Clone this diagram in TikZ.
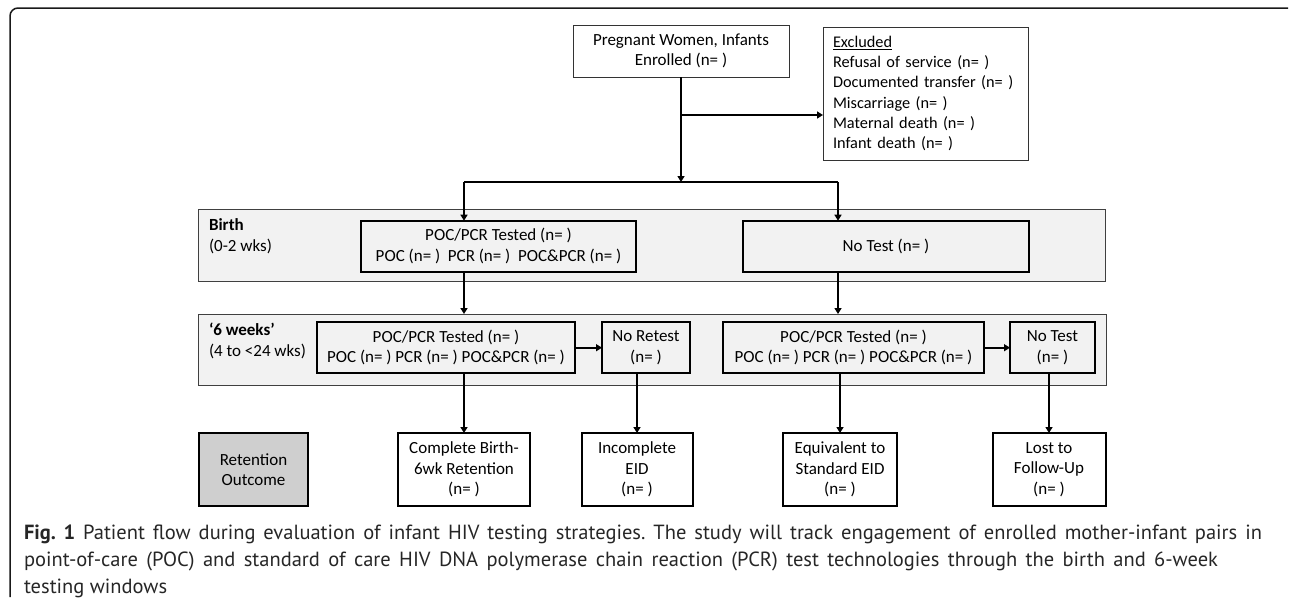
\documentclass[tikz,border=0pt]{standalone}
\usepackage{fontspec}
\setmainfont{Carlito}
\newfontfamily\capfont{PT Sans}
\usetikzlibrary{arrows.meta}
\begin{document}
\frenchspacing
\begin{tikzpicture}[x=1pt,y=-1pt,
 every node/.style={inner sep=0pt, outer sep=0pt},
 txt/.style={font=\fontsize{17}{20.5}\selectfont, align=center},
 thinbox/.style={draw=black!80, line width=1pt, fill=white, txt},
 band/.style={draw=black!75, line width=1pt, fill=black!5},
 boldbox/.style={draw=black, line width=2pt, fill=black!5, txt},
 outbox/.style={draw=black, line width=2pt, fill=white, txt, minimum height=73},
 arr/.style={line width=1.8pt, -{Triangle[width=7pt,length=6pt]}},
 ln/.style={line width=1.8pt},
 captxt/.style={anchor=base west, font=\capfont\fontsize{20.5}{27}\selectfont, text=black!85},
]
\useasboundingbox (0,0) rectangle (1290,603);
% frame
\draw[draw=black!90, line width=1.5pt, rounded corners=8] (10,597) -- (10,8) -- (1288,8);

% top
\node[thinbox, minimum width=216, minimum height=52] (top) at (681,51) {Pregnant Women, Infants\\Enrolled (n= )};
\node[thinbox, minimum width=205, minimum height=133, align=left, text width=185, font=\fontsize{16.3}{20.2}\selectfont] (exc) at (925.5,93.5)
 {\underline{Excluded}\\Refusal of service (n= )\\Documented transfer (n= )\\Miscarriage (n= )\\Maternal death (n= )\\Infant death (n= )};

% bands
\node[band, minimum width=907, minimum height=72] (bandB) at (651.75,245) {};
\node[band, minimum width=908, minimum height=71] (bandW) at (652,349.5) {};
\node[txt, align=left, anchor=west] (lblB) at (209,236) {\textbf{Birth}\\(0-2 wks)};
\node[txt, align=left, anchor=west] (lblW) at (209,341) {\textbf{‘6 weeks’}\\(4 to <24 wks)};

% birth row
\node[boldbox, minimum width=275, minimum height=51] (bpoc) at (498.5,246.2) {POC/PCR Tested (n= )\\POC (n= )\ \ PCR (n= )\ \ POC\&PCR (n= )};
\node[boldbox, minimum width=286, minimum height=51] (bno) at (886,246.2) {No Test (n= )};

% 6 week row
\node[boldbox, minimum width=258, minimum height=51] (wpoc) at (446,347.7) {POC/PCR Tested (n= )\\POC (n= ) PCR (n= ) POC\&PCR (n= )};
\node[boldbox, minimum width=88, minimum height=51] (wnr) at (646,347.7) {No Retest\\(n= )};
\node[boldbox, minimum width=261, minimum height=51] (wpocR) at (853.5,347.7) {POC/PCR Tested (n= )\\POC (n= ) PCR (n= ) POC\&PCR (n= )};
\node[boldbox, minimum width=85, minimum height=51] (wnt) at (1052.5,347.7) {No Test\\(n= )};

% outcomes
\node[outbox, fill=black!19, minimum width=109] (ret) at (253.5,469.5) {Retention\\Outcome};
\node[outbox, minimum width=132] (comp) at (464,469.5) {Complete Birth-\\6wk Retention\\(n= )};
\node[outbox, minimum width=111] (inc) at (637,469.5) {Incomplete\\EID\\(n= )};
\node[outbox, minimum width=114] (equ) at (840,469.5) {Equivalent to\\Standard EID\\(n= )};
\node[outbox, minimum width=113] (lost) at (1049,469.5) {Lost to\\Follow-Up\\(n= )};

% connectors
\coordinate (jc) at (681,182);
\coordinate (jx) at (681,115);
\coordinate (jl) at (464,182);
\coordinate (jr) at (838,182);
\draw[arr] (top.south) -- (jc);
\draw[arr] (jx) -- (jx -| exc.west);
\draw[ln] (jl) -- (jr);
\draw[arr] (jl) -- (jl |- bpoc.north);
\draw[arr] (jr) -- (jr |- bno.north);
\draw[arr] (jl |- bpoc.south) -- (jl |- bandW.north);
\draw[arr] (jr |- bno.south) -- (jr |- bandW.north);
\draw[arr] (wpoc) -- (wnr);
\draw[arr] (wpocR) -- (wnt);
\draw[arr] (comp |- wpoc.south) -- (comp.north);
\draw[arr] (inc |- wnr.south) -- (inc.north);
\draw[arr] (equ |- wpocR.south) -- (equ.north);
\draw[arr] (lost |- wnt.south) -- (lost.north);

% caption
\node[captxt] (cap1) at (24,539) {\makebox[1238pt][s]{\textbf{Fig. 1} Patient flow during evaluation of infant HIV testing strategies. The study will track engagement of enrolled mother-infant pairs in}};
\node[captxt] (cap2) at (24,566) {\makebox[1194pt][s]{point-of-care (POC) and standard of care HIV DNA polymerase chain reaction (PCR) test technologies through the birth and 6-week}};
\node[captxt] (cap3) at (24,593) {testing windows};
\end{tikzpicture}
\end{document}
